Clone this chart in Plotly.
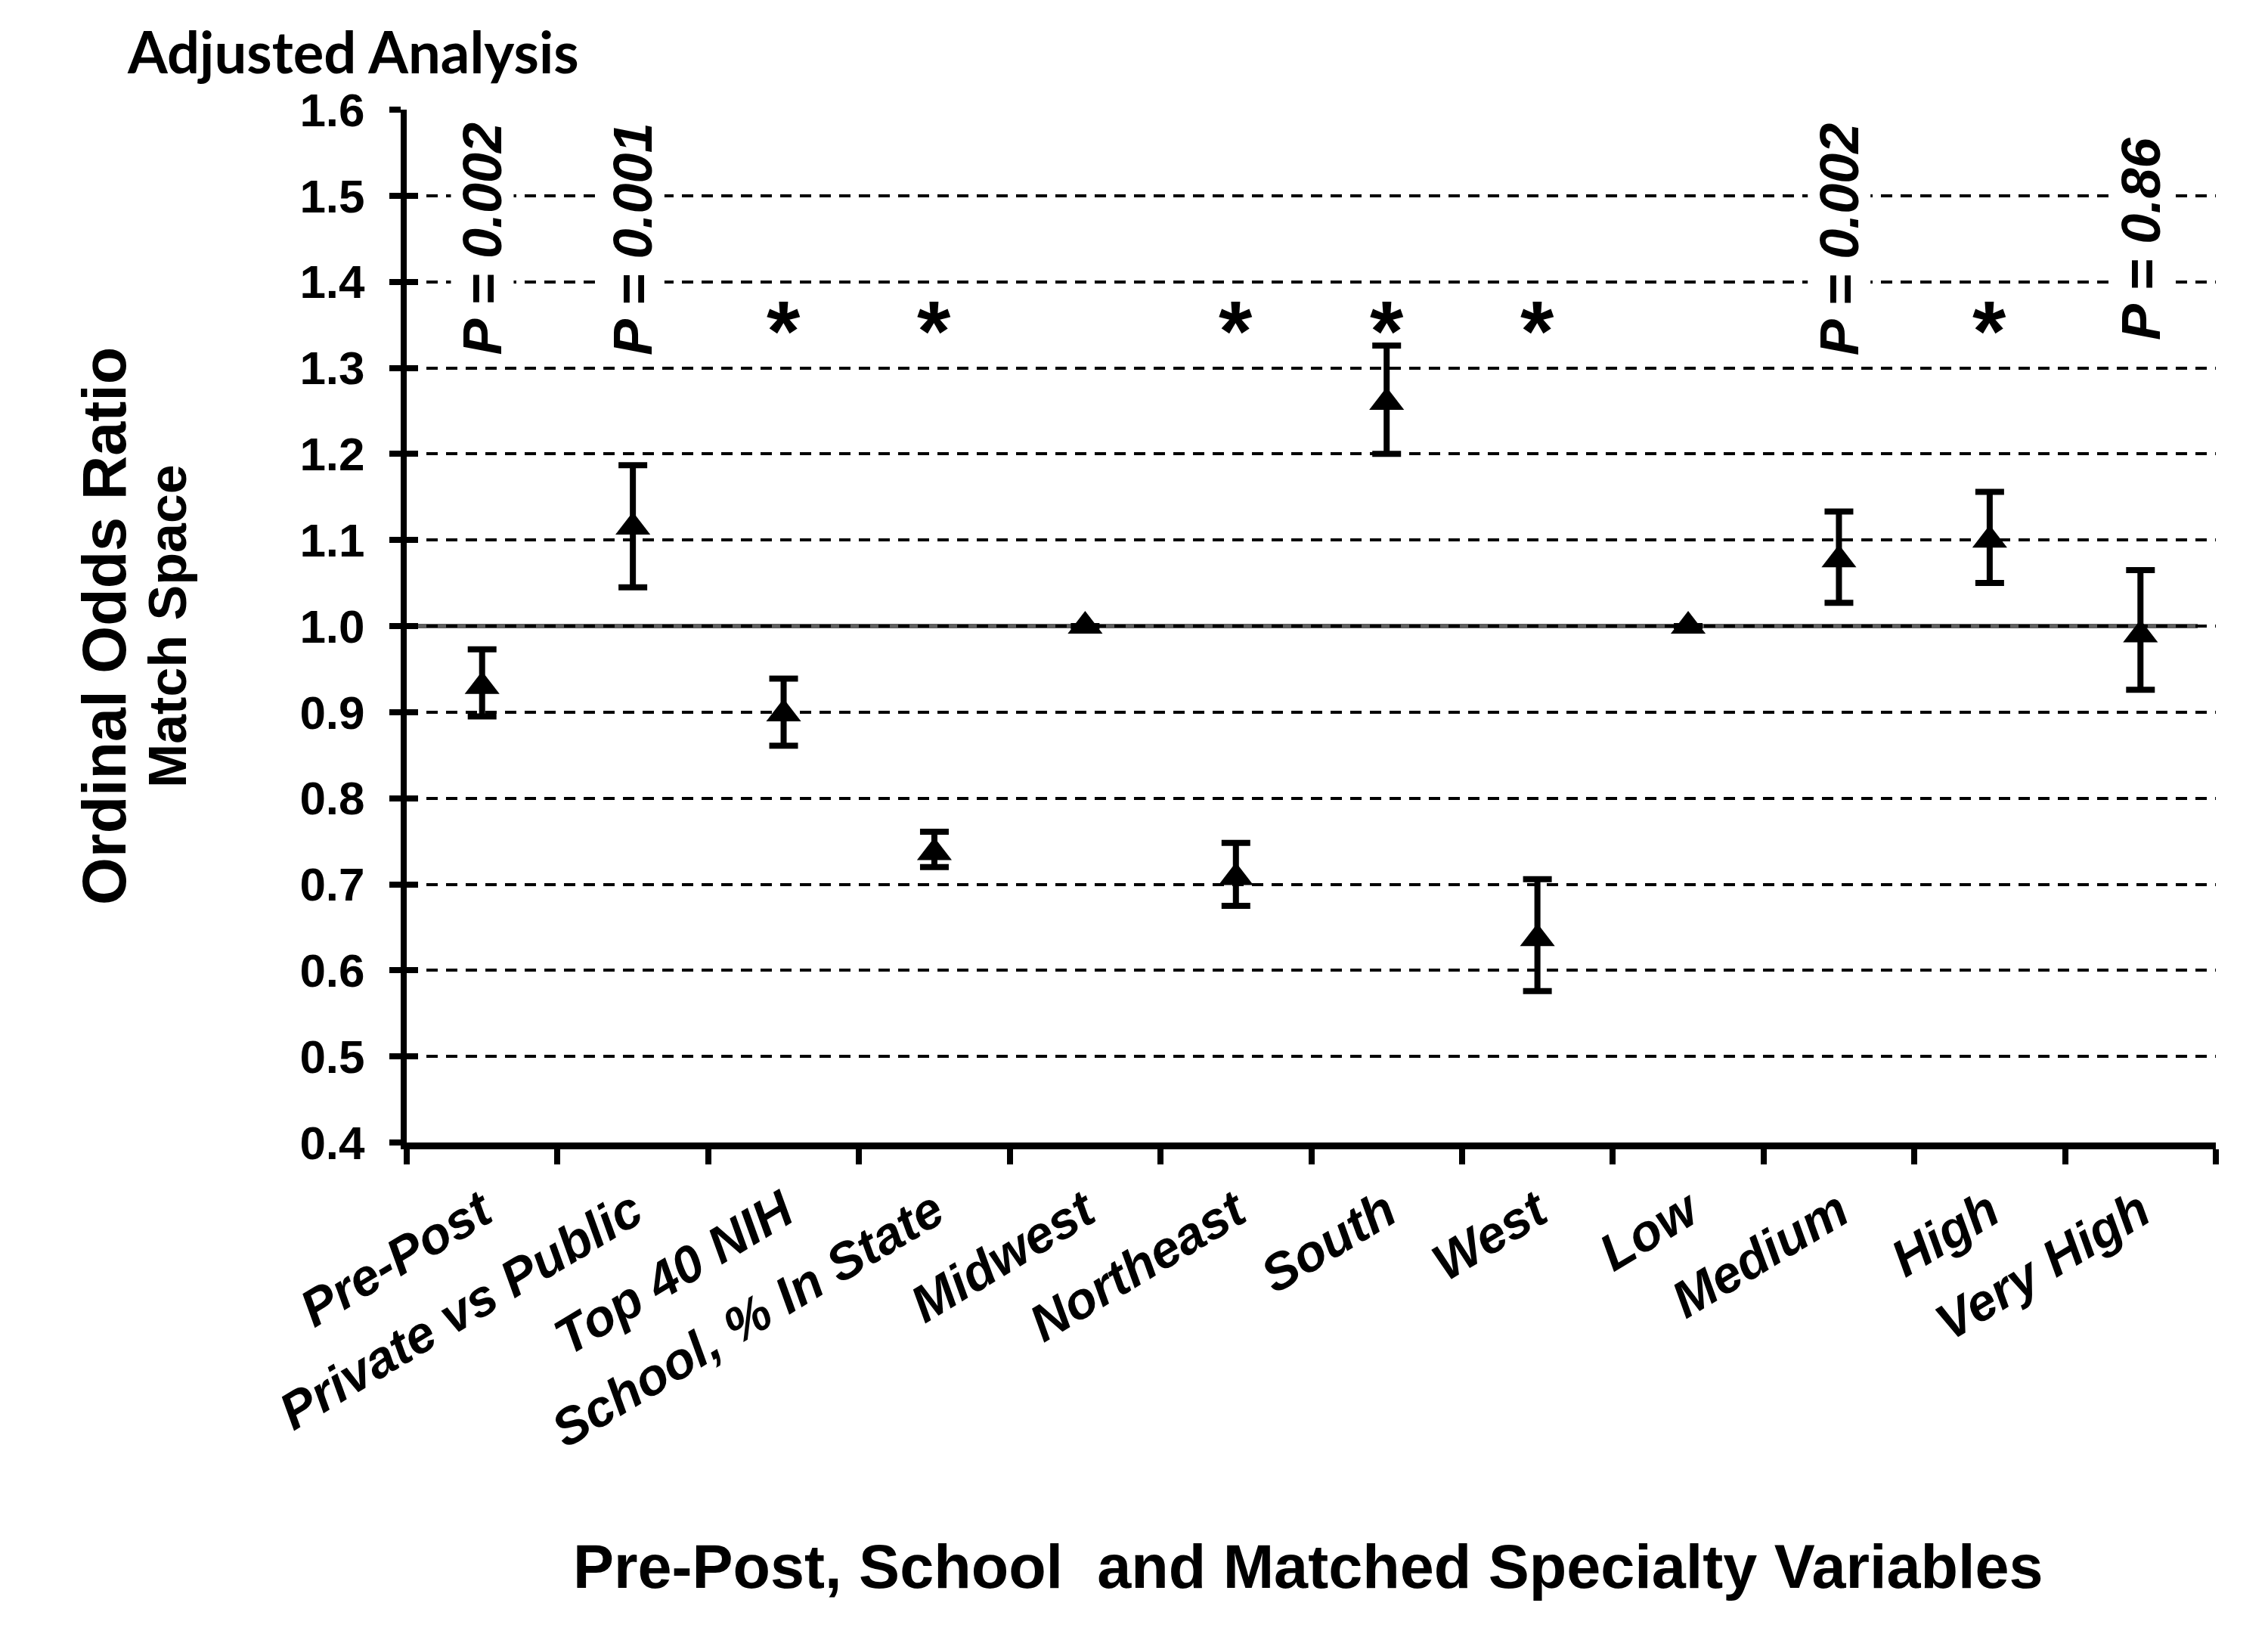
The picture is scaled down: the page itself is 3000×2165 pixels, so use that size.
import plotly.graph_objects as go

categories = ["Pre-Post", "Private vs Public", "Top 40 NIH", "School, % In State",
              "Midwest", "Northeast", "South", "West", "Low", "Medium", "High", "Very High"]
odds_ratio = [0.930, 1.115, 0.898, 0.737, 1.000, 0.708, 1.260, 0.637, 1.000, 1.077, 1.100, 0.990]
ci_upper   = [0.973, 1.187, 0.939, 0.761, 1.000, 0.748, 1.326, 0.706, 1.000, 1.133, 1.156, 1.065]
ci_lower   = [0.895, 1.045, 0.861, 0.720, 1.000, 0.675, 1.200, 0.576, 1.000, 1.027, 1.050, 0.926]
marks      = ["P = 0.002", "P = 0.001", "*", "*", "", "*", "*", "*", "", "P = 0.002", "*", "P = 0.86"]
y_ticks = [0.4, 0.5, 0.6, 0.7, 0.8, 0.9, 1.0, 1.1, 1.2, 1.3, 1.4, 1.5, 1.6]
y_range = [0.4, 1.6]
reference_value = 1.0

FONT = "Liberation Sans, Arial, sans-serif"

err_plus = [u - v for u, v in zip(ci_upper, odds_ratio)]
err_minus = [v - l for v, l in zip(odds_ratio, ci_lower)]

fig = go.Figure()
fig.add_trace(go.Scatter(
    x=categories, y=odds_ratio, mode="markers",
    marker=dict(symbol="triangle-up", size=40, color="black"),
    error_y=dict(type="data", symmetric=False, array=err_plus, arrayminus=err_minus,
                 color="black", thickness=8, width=19),
    showlegend=False, hoverinfo="x+y"))

# invisible trace on second y axis to carry inside ticks
fig.add_trace(go.Scatter(x=categories, y=odds_ratio, yaxis="y2", mode="markers",
                         marker=dict(opacity=0), showlegend=False, hoverinfo="skip"))

fig.add_shape(type="line", xref="paper", x0=0, x1=0.99, yref="y",
              y0=reference_value, y1=reference_value,
              line=dict(color="#5e5e5e", width=6), layer="between")

annotations = []
for cat, m in zip(categories, marks):
    if not m:
        continue
    if m == "*":
        annotations.append(dict(x=cat, y=1.358, xref="x", yref="y", text="*",
                                showarrow=False, yshift=-17,
                                font=dict(family=FONT, size=114, color="black", weight="bold")))
    else:
        annotations.append(dict(x=cat, y=1.45, xref="x", yref="y", text=m, textangle=-90,
                                showarrow=False, bgcolor="white",
                                font=dict(family=FONT, size=72, color="black",
                                          weight="bold", style="italic")))

annotations += [
    dict(x=-0.1555, y=1.057, xref="paper", yref="paper", xanchor="left", yanchor="middle",
         text="Adjusted Analysis", showarrow=False,
         font=dict(family="Lato, Carlito, sans-serif", size=76, color="black", weight="bold")),
    dict(x=-0.1672, y=0.5, xref="paper", yref="paper", xanchor="center", yanchor="middle",
         text="Ordinal Odds Ratio", textangle=-90, showarrow=False,
         font=dict(family=FONT, size=81, color="black", weight="bold")),
    dict(x=-0.132, y=0.5, xref="paper", yref="paper", xanchor="center", yanchor="middle",
         text="Match Space", textangle=-90, showarrow=False,
         font=dict(family=FONT, size=70, color="black", weight="bold")),
    dict(x=0.4985, y=-0.4107, xref="paper", yref="paper", xanchor="center", yanchor="middle",
         text="Pre-Post, School  and Matched Specialty Variables", showarrow=False,
         font=dict(family=FONT, size=81, color="black", weight="bold")),
]

fig.update_layout(
    width=3000, height=2165,
    margin=dict(l=538, r=69, t=145, b=654, pad=0),
    paper_bgcolor="white", plot_bgcolor="white",
    font=dict(family=FONT, color="black"),
    annotations=annotations,
    xaxis=dict(type="category", range=[-0.5, 11.5], tickson="boundaries",
               ticks="outside", ticklen=20, tickwidth=8, tickcolor="black",
               showline=True, linecolor="black", linewidth=9, showgrid=False,
               tickangle=-31, ticklabelstandoff=16,
               tickfont=dict(family=FONT, size=68, color="black", weight="bold", style="italic")),
    yaxis=dict(range=y_range, tickvals=y_ticks, ticktext=[f"{v:.1f}" for v in y_ticks],
               ticks="outside", ticklen=15, tickwidth=8, tickcolor="black",
               showline=True, linecolor="black", linewidth=8,
               showgrid=True, gridcolor="black", gridwidth=4, griddash="15px,11px",
               zeroline=False, ticklabelstandoff=20,
               tickfont=dict(family=FONT, size=62, color="black", weight="bold")),
    yaxis2=dict(range=y_range, tickvals=y_ticks, overlaying="y", side="left",
                ticks="inside", ticklen=15, tickwidth=8, tickcolor="black",
                showticklabels=False, showgrid=False, zeroline=False, showline=False),
)

fig.write_html("out.html")
